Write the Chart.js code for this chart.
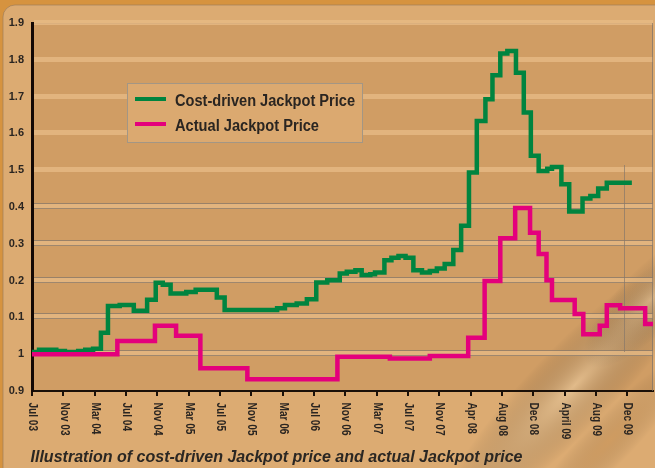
<!DOCTYPE html>
<html>
<head>
<meta charset="utf-8">
<script src="https://cdn.jsdelivr.net/npm/chart.js@4.4.1/dist/chart.umd.min.js"></script>
<style>
  html, body { margin: 0; padding: 0; background: #d6933f; }
  #wrap { width: 655px; height: 468px; }
  canvas { display: block; }
</style>
</head>
<body>
<div id="wrap"><canvas id="chart" width="655" height="468"></canvas></div>
<script>
// x axis: months counted from Jul 03, a label every 4 months
const monthLabels = ['Jul 03','Nov 03','Mar 04','Jul 04','Nov 04','Mar 05','Jul 05','Nov 05','Mar 06','Jul 06',
  'Nov 06','Mar 07','Jul 07','Nov 07','Apr 08','Aug 08','Dec 08','April 09','Aug 09','Dec 09'];
const tickMonths = [0,4,8,12,16,20,24,28,32,36,40,44,48,52,56,60,64,68,72,76];
const yTickLabels = ['0.9','1','0.1','0.2','0.3','0.4','1.5','1.6','1.7','1.8','1.9'];

// step series: month where each step starts, and its value
const costMonths = [0,0.9,3.1,4.2,5.9,6.8,7.8,8.8,9.7,11.2,13.0,14.7,15.8,16.7,17.7,19.7,20.9,23.6,24.6,
  31.3,32.3,33.8,35.1,36.3,37.7,39.3,40.2,41.3,42.1,43.2,43.8,45.0,45.9,46.8,47.7,48.7,49.8,50.8,51.7,52.7,
  53.8,54.8,55.8,56.8,57.9,58.8,59.8,60.7,61.8,62.8,63.7,64.7,65.8,66.4,67.6,68.6,70.3,71.3,72.3,73.4,76.6];
const costValues = [1.006,1.012,1.009,1.006,1.009,1.012,1.015,1.058,1.131,1.134,1.118,1.148,1.194,1.189,1.165,1.169,1.175,1.154,1.120,
  1.125,1.134,1.138,1.149,1.195,1.201,1.219,1.224,1.228,1.215,1.217,1.222,1.255,1.262,1.267,1.262,1.228,1.222,1.226,1.233,1.245,
  1.283,1.349,1.494,1.634,1.693,1.758,1.817,1.824,1.765,1.657,1.539,1.498,1.504,1.509,1.462,1.388,1.423,1.430,1.450,1.466,1.466];

const actualMonths = [0,10.9,15.7,18.4,21.5,27.5,39.0,45.7,50.8,55.7,57.8,59.8,61.7,63.6,64.7,65.7,66.4,69.3,70.4,72.5,73.4,75.1,78.3,79.8];
const actualValues = [1.000,1.036,1.077,1.050,0.962,0.932,0.993,0.988,0.995,1.045,1.199,1.315,1.397,1.330,1.272,1.201,1.147,1.109,1.054,1.077,1.133,1.125,1.082,1.082];

const seriesNames = ['Cost-driven Jackpot Price','Actual Jackpot Price'];
const seriesColors = ['#00843f','#e4007c'];
const caption = 'Illustration of cost-driven Jackpot price and actual Jackpot price';

const textColor = '#2a2521';
const baseFont = '"Liberation Sans", Arial, sans-serif';

// draw text squeezed to a given width (the original uses a condensed face)
function fitText(ctx, txt, x, y, w){
  const m = ctx.measureText(txt).width;
  ctx.save();
  ctx.translate(x, y);
  ctx.scale(w / m, 1);
  ctx.fillText(txt, 0, 0);
  ctx.restore();
}

// soft elongated glow used for the paper streaks
function glow(ctx, cx, cy, r, ang, squash, color){
  ctx.save();
  ctx.translate(cx, cy);
  ctx.rotate(ang);
  ctx.scale(1, squash);
  const g = ctx.createRadialGradient(0, 0, 0, 0, 0, r);
  g.addColorStop(0, color);
  g.addColorStop(1, 'rgba(0,0,0,0)');
  ctx.fillStyle = g;
  ctx.beginPath();
  ctx.arc(0, 0, r, 0, Math.PI * 2);
  ctx.fill();
  ctx.restore();
}

const decor = {
  id: 'decor',
  beforeDraw(chart){
    const {ctx, chartArea: a} = chart;
    ctx.save();
    ctx.fillStyle = '#d6933f';
    ctx.fillRect(0, 0, 655, 468);
    // rounded panel
    ctx.beginPath();
    ctx.roundRect(3, 5, 670, 480, 12);
    ctx.fillStyle = '#dcab72';
    ctx.fill();
    ctx.strokeStyle = 'rgba(150,120,90,0.6)';
    ctx.lineWidth = 1;
    ctx.stroke();
    // plot area
    ctx.fillStyle = '#d09d64';
    ctx.fillRect(a.left, a.top, a.right - a.left, a.bottom - a.top);
    ctx.strokeStyle = 'rgba(160,130,100,0.6)';
    ctx.strokeRect(a.left + 0.5, a.top + 0.5, a.right - a.left - 1, a.bottom - a.top);
    // streaks in the lower right
    glow(ctx, 575, 385, 190, -0.8, 0.22, 'rgba(255,236,200,0.38)');
    glow(ctx, 610, 440, 120, -0.8, 0.2, 'rgba(160,100,35,0.22)');
    glow(ctx, 650, 300, 90, -0.8, 0.35, 'rgba(255,236,200,0.3)');
    ctx.restore();
  },
  beforeDatasetsDraw(chart){
    const {ctx, chartArea: a, scales: {y}} = chart;
    ctx.save();
    y.ticks.forEach(t => {
      if (t.value < 0.95) return;
      const py = Math.round(y.getPixelForValue(t.value));
      ctx.fillStyle = 'rgba(232,188,135,0.75)';
      ctx.fillRect(a.left + 2, py - 3, a.right - a.left - 2, 5);
      if (t.value < 1.45){
        ctx.fillStyle = 'rgba(135,120,105,0.75)';
        ctx.fillRect(a.left + 2, py - 4, a.right - a.left - 2, 1);
        ctx.fillRect(a.left + 2, py + 1, a.right - a.left - 2, 1);
      }
    });
    // leftover frame lines at the right
    ctx.fillStyle = 'rgba(135,120,105,0.7)';
    ctx.fillRect(624, 165, 1, 187);
    ctx.fillRect(652, a.top, 1, a.bottom - a.top);
    ctx.restore();
  },
  afterDatasetsDraw(chart){
    const {ctx} = chart;
    ctx.save();
    // legend box
    ctx.fillStyle = '#dba970';
    ctx.fillRect(127, 83, 235, 59);
    ctx.strokeStyle = '#a39684';
    ctx.lineWidth = 1;
    ctx.strokeRect(127.5, 83.5, 235, 59);
    const rows = [99, 124];
    const widths = [180, 144];
    ctx.font = 'bold 16px ' + baseFont;
    ctx.textBaseline = 'alphabetic';
    ctx.textAlign = 'left';
    seriesNames.forEach((n, i) => {
      ctx.fillStyle = seriesColors[i];
      ctx.fillRect(135, rows[i] - 2, 31, 4);
      ctx.fillStyle = textColor;
      fitText(ctx, n, 175, rows[i] + 6.5, widths[i]);
    });
    ctx.restore();
  },
  afterDraw(chart){
    const {ctx, scales: {x}} = chart;
    ctx.save();
    ctx.fillStyle = textColor;
    ctx.font = 'bold 12px ' + baseFont;
    ctx.textAlign = 'left';
    ctx.textBaseline = 'middle';
    monthLabels.forEach((lab, i) => {
      const px = x.getPixelForValue(tickMonths[i]);
      ctx.save();
      ctx.translate(px + 0.5, 402.5);
      ctx.rotate(Math.PI / 2);
      ctx.scale(0.84, 1);
      ctx.fillText(lab, 0, 0);
      ctx.restore();
    });
    ctx.font = 'italic bold 17px ' + baseFont;
    ctx.textBaseline = 'alphabetic';
    ctx.fillStyle = '#2b2723';
    fitText(ctx, caption, 30.5, 461.5, 492);
    ctx.restore();
  }
};

const ctx = document.getElementById('chart').getContext('2d');
new Chart(ctx, {
  type: 'line',
  data: {
    datasets: [
      {
        label: seriesNames[1],
        data: actualMonths.map((m, i) => ({x: m, y: actualValues[i]})),
        borderColor: seriesColors[1],
        borderWidth: 4.5,
        stepped: true,
        pointRadius: 0,
        borderJoinStyle: 'miter',
        borderCapStyle: 'butt',
        fill: false
      },
      {
        label: seriesNames[0],
        data: costMonths.map((m, i) => ({x: m, y: costValues[i]})),
        borderColor: seriesColors[0],
        borderWidth: 4.5,
        stepped: true,
        pointRadius: 0,
        borderJoinStyle: 'miter',
        borderCapStyle: 'butt',
        fill: false
      }
    ]
  },
  options: {
    responsive: false,
    animation: false,
    devicePixelRatio: 1,
    layout: { padding: { top: 23, right: 2, left: 0, bottom: 0 } },
    plugins: { legend: { display: false }, tooltip: { enabled: false }, title: { display: false } },
    scales: {
      x: {
        type: 'linear',
        min: 0,
        max: 79.3,
        afterBuildTicks: s => { s.ticks = tickMonths.map(v => ({value: v})); },
        afterFit: s => { s.height = 77; },
        ticks: { display: false },
        grid: { drawOnChartArea: false, drawTicks: true, tickLength: 5, color: '#1a1008', lineWidth: 2 },
        border: { display: true, color: '#1a1008', width: 2 }
      },
      y: {
        min: 0.9,
        max: 1.9,
        afterBuildTicks: s => { s.ticks = yTickLabels.map((t, i) => ({value: 0.9 + i * 0.1})); },
        afterFit: s => { s.width = 32; },
        ticks: {
          callback: (v, i) => yTickLabels[i],
          color: textColor,
          font: { family: baseFont, weight: 'bold', size: 11 },
          padding: 8
        },
        grid: { display: false, drawTicks: false },
        border: { display: true, color: '#140804', width: 3 }
      }
    }
  },
  plugins: [decor]
});
</script>
</body>
</html>
